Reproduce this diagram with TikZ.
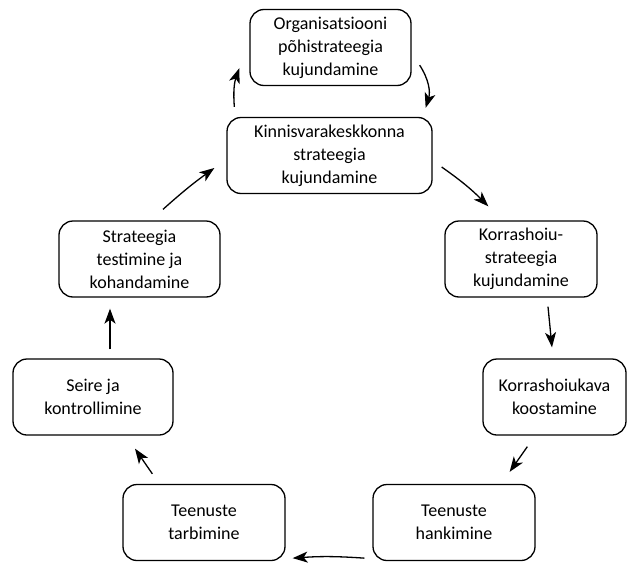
\documentclass[tikz,border=0pt]{standalone}
\usepackage{fontspec}
\setmainfont{Carlito}
\usetikzlibrary{arrows.meta}

\begin{document}
\begin{tikzpicture}[x=1pt,y=-1pt,>={Stealth[length=15pt,width=11pt,inset=4pt]},
		box/.style={draw,line width=1.3pt,rounded corners=14pt,align=center,inner sep=0pt,
			font=\fontsize{18}{23}\selectfont,minimum height=76},
		arr/.style={->,line width=1.3pt}]
	\useasboundingbox (0,0) rectangle (627,565);
	% boxes of the cycle
	\node[box,minimum width=161] (org) at (330.5,47.5) {Organisatsiooni\\põhistrateegia\\kujundamine};
	\node[box,minimum width=205] (kinn) at (329.5,155.5) {Kinnisvarakeskkonna\\strateegia\\kujundamine};
	\node[box,minimum width=152] (korr) at (521,259) {Korrashoiu-\\strateegia\\kujundamine};
	\node[box,minimum width=143] (kava) at (554.5,397) {Korrashoiukava\\koostamine};
	\node[box,minimum width=162] (hank) at (454,522.5) {Teenuste\\hankimine};
	\node[box,minimum width=162] (tarb) at (204,522.5) {Teenuste\\tarbimine};
	\node[box,minimum width=160] (seire) at (93,397) {Seire ja\\kontrollimine};
	\node[box,minimum width=161] (test) at (139.5,259) {Strateegia\\testimine ja\\kohandamine};
	% arrows
	\draw[arr] ([xshift=8pt,yshift=21pt]org.south east) to[bend left=25] ([xshift=-7pt,yshift=9pt]kinn.north east);
	\draw[arr] ([xshift=9pt,yshift=-11.5pt]kinn.east) to[bend left=5] ([xshift=44pt,yshift=14pt]korr.north west);
	\draw[arr] ([xshift=27pt,yshift=-9pt]korr.south) -- ([xshift=-2.5pt,yshift=11pt]kava.north);
	\draw[arr] ([xshift=45pt,yshift=-11pt]kava.south west) -- ([xshift=-26pt,yshift=12pt]hank.north east);
	\draw[arr] ([xshift=-8pt,yshift=3pt]hank.south west) to[bend right=4] ([xshift=7pt,yshift=3pt]tarb.south east);
	\draw[arr] ([xshift=30pt,yshift=10pt]tarb.north west) -- ([xshift=42pt,yshift=-13pt]seire.south);
	\draw[arr] ([xshift=17pt,yshift=9pt]seire.north) -- ([xshift=-29.5pt,yshift=-11pt]test.south);
	\draw[arr] ([xshift=23.5pt,yshift=11pt]test.north) to[bend left=3] ([xshift=-12pt,yshift=-12.5pt]kinn.west);
	\draw[arr] ([xshift=8pt,yshift=10pt]kinn.north west) to[bend left=12] ([xshift=-10pt,yshift=18pt]org.south west);
\end{tikzpicture}
\end{document}
